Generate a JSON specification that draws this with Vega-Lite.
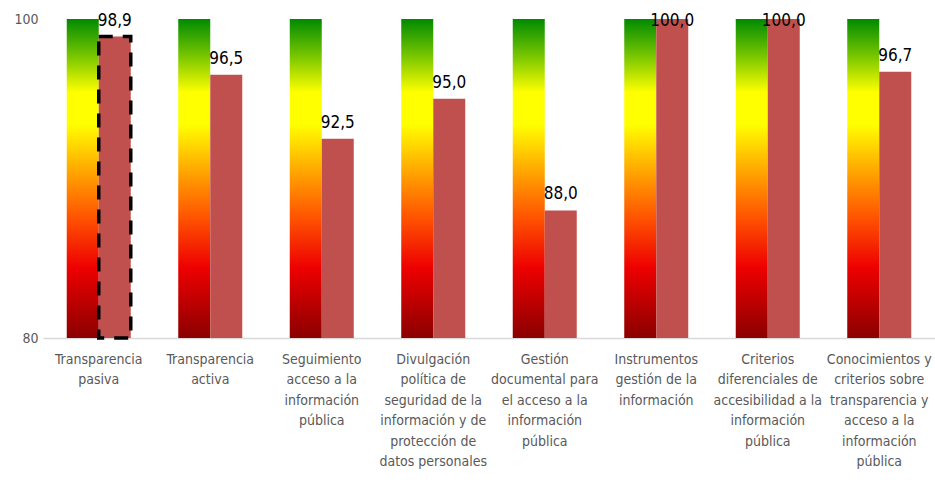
{
  "$schema": "https://vega.github.io/schema/vega-lite/v6.json",
  "width": 935,
  "height": 487,
  "autosize": {"type": "fit", "contains": "padding"},
  "padding": {"top": 12, "left": 13, "right": 0, "bottom": 18},
  "config": {
    "locale": {"number": {"decimal": ",", "thousands": ".", "grouping": [3], "currency": ["", " €"]}},
    "view": {"stroke": null},
    "font": "DejaVu Sans Condensed, Liberation Sans, sans-serif"
  },
  "data": {
    "values": [
      {"categoria": "Transparencia\npasiva", "valor": 98.9, "destacado": true},
      {"categoria": "Transparencia\nactiva", "valor": 96.5, "destacado": false},
      {"categoria": "Seguimiento\nacceso a la\ninformación\npública", "valor": 92.5, "destacado": false},
      {"categoria": "Divulgación\npolítica de\nseguridad de la\ninformación y de\nprotección de\ndatos personales", "valor": 95.0, "destacado": false},
      {"categoria": "Gestión\ndocumental para\nel acceso a la\ninformación\npública", "valor": 88.0, "destacado": false},
      {"categoria": "Instrumentos\ngestión de la\ninformación", "valor": 100.0, "destacado": false},
      {"categoria": "Criterios\ndiferenciales de\naccesibilidad a la\ninformación\npública", "valor": 100.0, "destacado": false},
      {"categoria": "Conocimientos y\ncriterios sobre\ntransparencia y\nacceso a la\ninformación\npública", "valor": 96.7, "destacado": false}
    ]
  },
  "encoding": {
    "x": {
      "field": "categoria",
      "type": "nominal",
      "sort": null,
      "title": null,
      "scale": {"paddingInner": 0.426, "paddingOuter": 0.213},
      "axis": {
        "labelExpr": "split(datum.value, '\\n')",
        "labelAngle": 0,
        "labelFontSize": 14,
        "labelColor": "#595959",
        "labelLineHeight": 20.5,
        "labelPadding": 14,
        "labelLimit": 0,
        "ticks": false,
        "domainColor": "#D9D9D9",
        "domainWidth": 1.5,
        "grid": false
      }
    }
  },
  "layer": [
    {
      "mark": {
        "type": "bar",
        "color": {
          "gradient": "linear",
          "x1": 0, "y1": 0, "x2": 0, "y2": 1,
          "stops": [
            {"offset": 0, "color": "#008A00"},
            {"offset": 0.12, "color": "#7CC800"},
            {"offset": 0.23, "color": "#FFFF00"},
            {"offset": 0.33, "color": "#FFFF00"},
            {"offset": 0.5, "color": "#FF9900"},
            {"offset": 0.62, "color": "#FF5500"},
            {"offset": 0.78, "color": "#EE0000"},
            {"offset": 1, "color": "#8B0000"}
          ]
        }
      },
      "encoding": {
        "xOffset": {"datum": "escala", "type": "nominal", "scale": {"domain": ["escala", "valor"], "paddingInner": 0, "paddingOuter": 0}},
        "y": {
          "datum": 100,
          "type": "quantitative",
          "title": null,
          "scale": {"domain": [80, 100], "nice": false, "zero": false},
          "axis": {
            "title": null,
            "values": [80, 100],
            "labelFontSize": 14,
            "labelColor": "#595959",
            "labelPadding": 5,
            "ticks": false,
            "domain": false,
            "gridColor": "#D9D9D9",
            "gridDash": [3, 3],
            "format": "d"
          }
        },
        "y2": {"datum": 80}
      }
    },
    {
      "mark": {"type": "bar", "color": "#C0504D"},
      "encoding": {
        "xOffset": {"datum": "valor", "type": "nominal"},
        "y": {"field": "valor", "type": "quantitative", "title": null},
        "y2": {"datum": 80}
      }
    },
    {
      "transform": [{"filter": "datum.destacado"}],
      "mark": {"type": "bar", "fillOpacity": 0, "stroke": "black", "strokeWidth": 3.5, "strokeDash": [14, 10]},
      "encoding": {
        "xOffset": {"datum": "valor", "type": "nominal"},
        "y": {"field": "valor", "type": "quantitative", "title": null},
        "y2": {"datum": 80}
      }
    },
    {
      "transform": [{"calculate": "min(datum.valor, 98.9)", "as": "posicion"}],
      "mark": {"type": "text", "baseline": "alphabetic", "dy": -11, "fontSize": 17, "color": "black"},
      "encoding": {
        "xOffset": {"datum": "valor", "type": "nominal"},
        "y": {"field": "posicion", "type": "quantitative", "title": null},
        "text": {"field": "valor", "type": "quantitative", "format": ".1f"}
      }
    }
  ]
}
